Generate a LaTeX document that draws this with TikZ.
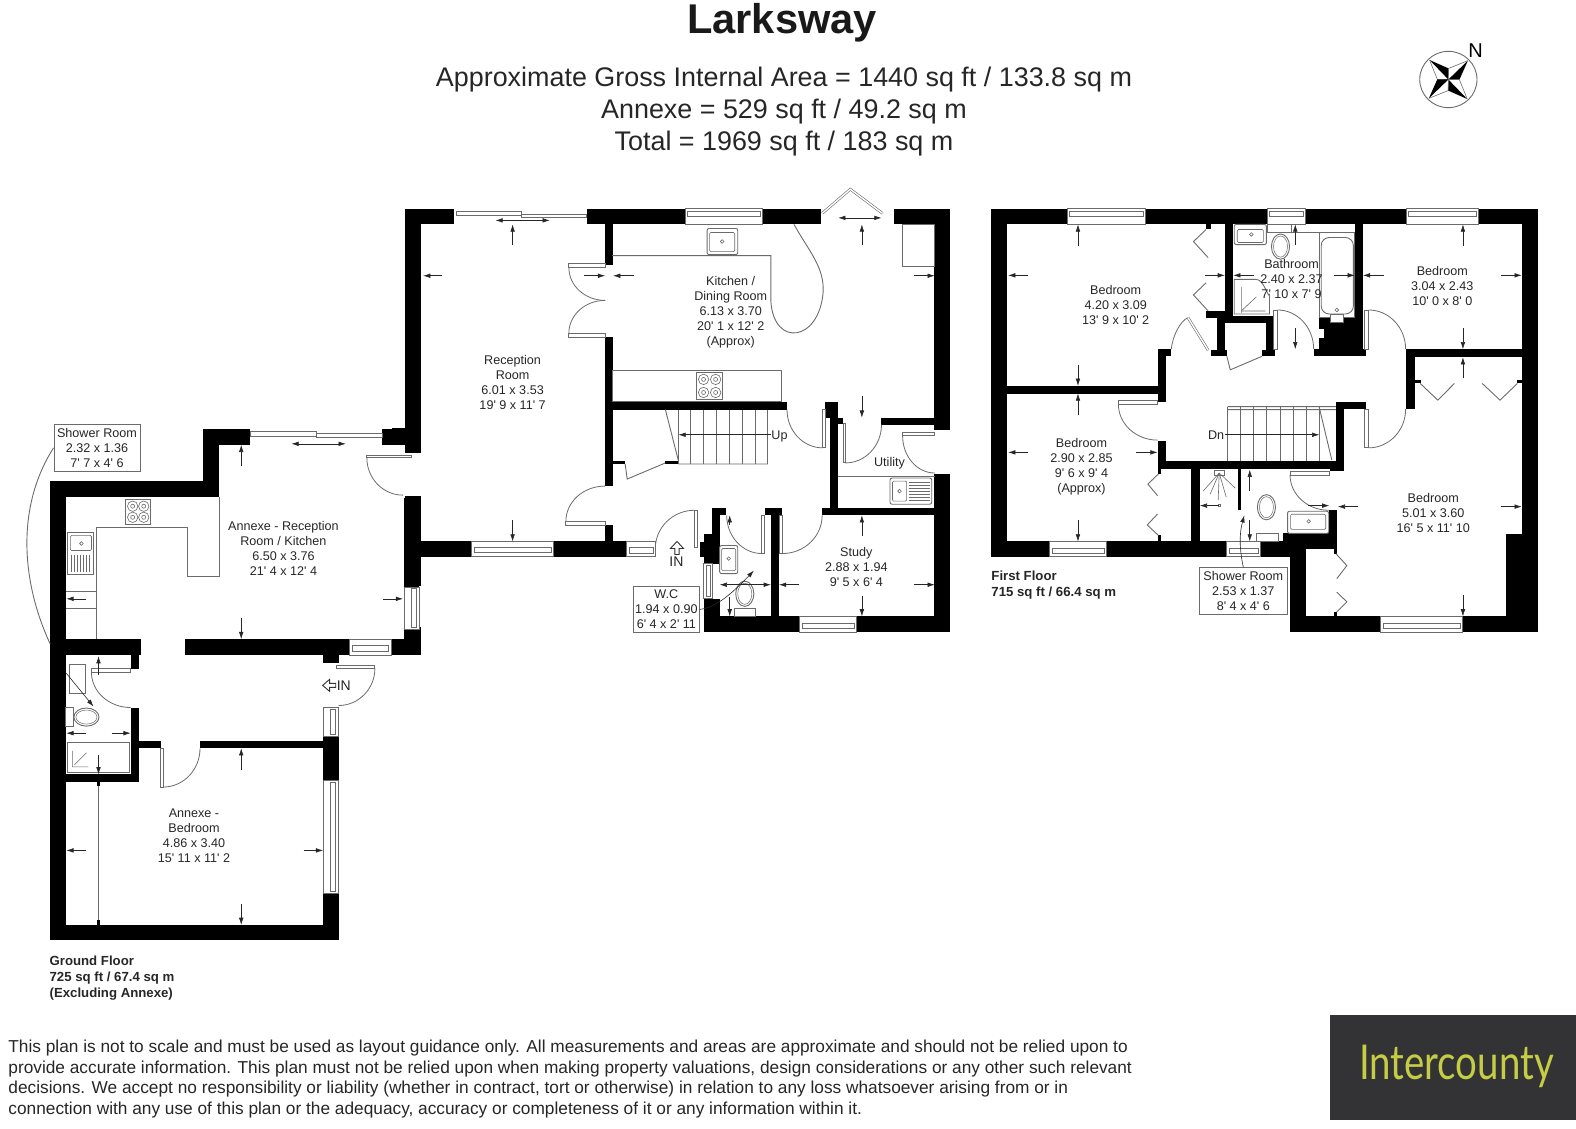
\documentclass[tikz,border=0pt]{standalone}
\usepackage{fontspec}
\setmainfont{Liberation Sans}[Ligatures=TeXOff]
\usetikzlibrary{arrows.meta,calc}
\definecolor{fixgray}{gray}{0.42}
\definecolor{logobg}{HTML}{333335}
\definecolor{logotext}{HTML}{C5CD45}
\tikzset{
  wall/.style={fill=black},
  fixture/.style={draw=fixgray,line width=0.45pt},
  dim/.style={draw=black!85,line width=0.3pt,-{Latex[length=3.6pt,width=2.3pt]}},
  dimboth/.style={draw=black!85,line width=0.3pt,{Latex[length=3.6pt,width=2.3pt]}-{Latex[length=3.6pt,width=2.3pt]}},
  room/.style={align=center,inner sep=0pt,text=black!85,font=\fontsize{6.3}{7.5}\selectfont},
  floorname/.style={align=left,anchor=north west,inner sep=0pt,text=black!85,font=\fontsize{6.6}{8}\selectfont\bfseries},
  roombox/.style={room,draw=fixgray,line width=0.45pt}
}
\begin{document}
\begin{tikzpicture}[x=0.50255pt,y=-0.5032pt]
\useasboundingbox (0,0) rectangle (1568,1120.9);

% heading
\node[inner sep=0pt,font=\fontsize{20.8}{24}\selectfont\bfseries,text=black!90] (title) at (778,23) {Larksway};
\node[inner sep=0pt,align=center,text=black!85,font=\fontsize{13.45}{16}\selectfont] (areas) at (780,111) {Approximate Gross Internal Area = 1440 sq ft / 133.8 sq m\\Annexe = 529 sq ft / 49.2 sq m\\Total = 1969 sq ft / 183 sq m};

% compass
\draw[fixture] (1441,79) ellipse (28.5 and 28);
\node[inner sep=0pt,font=\fontsize{10}{12}\selectfont] (north) at (1468,50) {N};
\foreach \t in {46,136,226,316}{
  \fill[black] (1441,79) -- ($(1441,79)+({\t}:-27)$) -- ($(1441,79)+({\t+45}:-11)$) -- cycle;
  \draw[fixture,line width=0.3pt] ($(1441,79)+({\t}:-27)$) -- ($(1441,79)+({\t-45}:-11)$) -- (1441,79);
}

% walls, ground floor
\foreach \a/\b/\c/\d in {403/207.5/452/223,403/207.5/419/450,390/425/403/441,403/493/419/582,403/623/419/651,
  419/538/469/553,551/538/623.5/553,584/207.5/682/223,759/207.5/817/223,889/207.5/945/223,929.5/207.5/945/427,
  929.5/471/945/628,602/223/610/263,602/335/610/483,602/522/610/538,609/399/783/407,609/458/622/461,662/458/675/461,
  821/399/834/415,826/415/834/505,834/415/839/421,877/415/930/422,818/505/930/512,708/505/722/512,708/512/716/531,
  700/530.5/716/560,696/539/700/553,700/595/716/628,700/612.5/795/628,852/612.5/945/628,767/512/775/613,761/505/778.5/512}
  \fill[wall] (\a,\b) rectangle (\c,\d);

% walls, annexe
\foreach \a/\b/\c/\d in {202/426/249/442,202/426/218/494,50/478/218/494,50/478/65.5/934,50/919/337/934,321.5/888/337/934,
  321.5/732/337/775,199/736/321.5/743.5,138/736/160/743.5,130/703/138/777,65.5/769.5/138/777,65.5/635/140/651,
  130/651/138/665,184/635/347.5/651,321.5/651/337/659,389/635/417/651,402/625/417/651,402/495/417/583,380.5/426/403/442}
  \fill[wall] (\a,\b) rectangle (\c,\d);

% walls, first floor
\foreach \a/\b/\c/\d in {986/207.5/1062/223,1140/207.5/1261/223,1299/207.5/1399/223,1471/207.5/1530/223,986/207.5/1001.5/553,
  986/538/1044.5/553,1101/538/1220.5/553,1253.7/538/1283/553,1276/530/1329/545.5,1283/545.5/1299/628,1283/612.5/1373.4/628,
  1455.5/612.5/1530/628,1514/207.5/1530/628,1498.6/530.5/1530/628,1218.7/223/1227/314,1201/309/1219/316,1200/223/1205/228,
  1200/309/1205/316,1210.6/316/1218.7/352,1204.7/348/1220.5/354,1218.7/314/1268/321,1260/321/1268.4/354,1255.6/348/1268.4/354,
  1348/223/1356/354,1312.6/315.6/1356/354,1307/347/1358.7/354,1399/347/1514/355,1399/347/1408/406.5,1151.7/347/1160/399,
  1151.7/347/1165.3/354,1001.5/383.4/1160/391,1151.7/438/1160/466,1151.7/458.5/1337.3/466,1329/399/1337.3/466,1329/399/1358.7/406.5,
  1323.7/466/1337/468,1185/466/1193.7/538,1231.6/466/1235/507,1322/507/1330/545.5,1151.7/466/1154.6/471,1151.7/532/1154.6/538,
  1408/378/1414/381,1509.7/378/1514/381,1327/545.5/1330/550,1327/608/1330/612.5}
  \fill[wall] (\a,\b) rectangle (\c,\d);
\fill[white] (1312.6,327) rectangle (1317,335.5);

% windows, door leaves, fittings
\foreach \a/\b/\c/\d in {
  469/538/551/553,472/544/549/549,623.5/538/652/553,626/544/650/550,682/207.5/759/223,684/210/757/215,
  795/612.5/852/628,798/619/850/624,700/560/709/595,703/562/707/593,402/583.5/417/625,409/585/414/623,
  347.5/635/389/651,351/641/386/647,321.5/703/337/732,329/705/334/730,321.5/775/337/888,329/777/334/886,
  1062/207.5/1140/223,1064/210/1138/215,1261/207.5/1299/223,1263/210/1297/215,1399/207.5/1471/223,1401/210/1469/215,
  1044.5/538/1101/553,1047/545/1099/550,1220.5/538/1253.7/553,1223/545/1252/550,1373.4/612.5/1455.5/628,1376/619/1453/624,
  454/210/519/214,519/213/583/216,249/429/315/434,315/431/380.5/435,
  566/262/602/266,566/331/602/335,563/518/602/522,691/507/694/544,818.5/406.5/821.5/445,839/421/841/460,898/430/930/433,
  758/512/761/550,775/512/778.5/550,365/453/409/455,335/661/373/664,91/664/130/668,160/743.5/162.5/782,
  1267/308/1271/347,1358/308/1361.6/347,1358/406.5/1361.6/445,1112.7/398/1151.7/401.6,1283.5/468.7/1322.6/472,
  898/223/930/265,609/368/777/399,693/370/719/397,67.5/529.5/93/570.5,69/660/85/689,65.5/703/73.5/722,67/738/129/767.5,
  730.5/605/751.5/612.5,1250/530.5/1272/538,1261/223/1285/231,1312.6/231/1348/315.6,1323.6/312/1336.6/320,125/496/150/521}
  \draw[fixture,fill=white] (\a,\b) rectangle (\c,\d);
\foreach \a/\b/\c/\d in {703.5/227/734/253,885.5/475/927/501,716/542/734/570,1228/223/1260/243,1281/508/1322/530}{
  \draw[fixture,rounded corners=1pt,fill=white] (\a,\b) rectangle (\c,\d);
}
\foreach \a/\b/\c/\d in {706/231/731/250,888/478/902/498,718/545/732/567,1231/228/1257/241,1284/511/1319/526,70/532/91/547}
  \draw[fixture,line width=0.3pt,rounded corners=0.6pt] (\a,\b) rectangle (\c,\d);
\foreach \x/\y in {718.5/240,895/488,725/555,1245/233,1302/518,81/540,1330/308}
  \draw[fixture,line width=0.3pt] (\x,\y) circle (0.9pt);
\draw[fixture,rounded corners=4pt] (1314.5,312) -- (1314.5,236) -- (1346.5,236) -- (1346.5,312) -- cycle;
\draw[fixture] (1228,312) -- (1228,277.6) -- (1250,277.6) to[out=0,in=-90] (1263,292) -- (1263,312) -- cycle;

% kitchen lines
\draw[fixture] (609,254) -- (767,254) -- (767,300) .. controls (770,345) and (815,340) .. (819,290) .. controls (820,265) and (805,250) .. (790,223);
\draw[fixture] (96,635) -- (96,524) -- (186,524) -- (186,573) -- (218,573) -- (218,494);
\draw[fixture] (65.5,588) -- (96,588) (65.5,605) -- (96,605);
\draw[fixture] (834,473.6) -- (930,473.6);
\draw[fixture] (1285,231) -- (1348,231);
\foreach \y in {479,482,485,488,491,494,497}{\draw[fixture,line width=0.25pt] (904,\y) -- (925,\y);}
\foreach \x in {71,74,77,80,83,86,89}{\draw[fixture,line width=0.25pt] (\x,551) -- (\x,568);}

% hobs
\foreach \x/\y in {700/377,712/377,700/390,712/390,132/503,143/503,132/514,143/514}{
  \draw[fixture,line width=0.3pt] (\x,\y) circle (2.6pt);
  \draw[fixture,line width=0.3pt] (\x,\y) circle (1pt);
}

% toilets and showers
\foreach \x/\y/\rx/\ry in {741/590/9/12.5,1274/245/9/12.5,1260/504/9/12.5,86/712.5/12.5/9}{
  \draw[fixture,fill=white] (\x,\y) ellipse ({\rx} and {\ry});
  \draw[fixture,line width=0.25pt] (\x,\y) ellipse ({\rx-2} and {\ry-2});
}
\draw[fixture,line width=0.3pt] (72,762) -- (72,746) (72,762) -- (88,762) (74,760) -- (86,748);
\draw[fixture,line width=0.3pt] (1235,311) -- (1235,285) (1235,309) -- (1259,309) (1236,308) -- (1250,295);
\foreach \u/\v in {1197/488,1204/491,1212/497,1220/494,1229/485}{\draw[fixture,line width=0.3pt] (1213,470) -- (\u,\v);}
\draw[fixture] (1208,467) rectangle (1218,472);
\draw[fixture,line width=0.3pt] (1212,501) rectangle (1214.5,503.5);

% stairs
\foreach \x in {675,687,700,713,726,738.5,751.5,764}{\draw[fixture] (\x,407) -- (\x,461);}
\draw[fixture] (675,461) -- (764,461) (662,407) -- (675,458);
\foreach \x in {1221.3,1234,1247.4,1260.3,1274,1287,1299.8,1312.6}{\draw[fixture] (\x,404) -- (\x,458.5);}
\draw[fixture] (1221.3,404) -- (1329,404) (1221.3,407) -- (1329,407) (1312.6,405) -- (1325,457);

% door swings
\foreach \ax/\ay/\kx/\ky/\bx/\by in {566/266/566/298.5/602/298.5,566/331/566/298.5/602/298.5,563/518/563/483/602/483,
  691/507/652/507/652/545,818.5/445/783/445/783/407,841/460/877/460/877/422,898/433/898/470/930/470,758/550/723/550/723/512,
  778.5/550/818/550/818/512,365/455/365/492/401/492,373/664/373/701/337/701,91/668/91/703/130/703,162.5/782/199/782/199/743.5,
  1181.9/315.6/1168/322/1165.3/347,1271/308/1307/308/1307/347,1361.6/308/1398.5/308/1398.5/347,1361.6/445/1398.5/445/1398.5/406.5,
  1112.7/401.6/1112.7/437.3/1151.7/437.3,1283.5/472/1283.5/507/1322/507}
  \draw[fixture,line width=0.4pt] (\ax,\ay) .. controls ($(\ax,\ay)!.552!(\kx,\ky)$) and ($(\bx,\by)!.552!(\kx,\ky)$) .. (\bx,\by);

% folding and slanted doors
\draw[fixture,double=white,double distance=0.7pt,line width=0.3pt] (818,212) -- (846,188) -- (878,212);
\draw[fixture,double=white,double distance=0.7pt,line width=0.3pt] (1181.9,315.6) -- (1202,348);
\foreach \p/\q/\r in {1200/228/1187.4,1200/281/1187.4}{\draw[fixture] (\p,\q) -- (\r,\q+12) -- (\p+2,\q+28);}
\draw[fixture] (1152.5,471) -- (1142,481) -- (1151.7,492.5) (1151.7,510.7) -- (1141.4,521.6) -- (1152.5,532);
\draw[fixture] (1413,381) -- (1430.5,397.6) -- (1447,381) (1474.7,381) -- (1492.4,397.6) -- (1509.7,381);
\draw[fixture] (1329,550) -- (1340,562) -- (1330,575) (1330,588.4) -- (1340,598) -- (1330,608);
\draw[fixture] (622,461) -- (624,476) -- (662,460);
\draw[fixture] (1220.6,354) -- (1224,367.5) -- (1255.6,354);

% annexe wardrobe line
\draw[fixture] (98,777) -- (98,919);
\fill[wall] (96.5,777) rectangle (99.5,781);
\fill[wall] (96.5,914) rectangle (99.5,919);

% dimension arrows
\foreach \a/\b/\c/\d in {510/243/510/223,440/274/421/274,581/274/602/274,631/274/610/274,510/517/510/538,857.5/243/857.5/223,
  909/274/930/274,857.5/393/857.5/415,857.5/533/857.5/512,857.5/592/857.5/612.5,795/581/775/581,909/581/930/581,726/522/726/512,
  726/593/726/612.5,240/463/240/442,240/614/240/635,381/595/401/595,240/765/240/743.5,240/898/240/919,86/845/66/845,302/845/321.5/845,
  86/595/66/595,98/671/98/652,98/750/98/769.5,66/669/93/702,86/728.5/66/728.5,111/728.5/130/728.5,
  1072.5/244.5/1072.5/223,1072.5/362.6/1072.5/383.4,1022.8/273.6/1003/273.6,1198.5/273.6/1218.7/273.6,1247.5/273.6/1227/273.6,
  1327.4/273.6/1348/273.6,1288.7/243.5/1288.7/223,1288.7/326/1288.7/347,1376.5/273.6/1356/273.6,1493/273.6/1514/273.6,
  1455.5/244.5/1455.5/223,1455.5/326/1455.5/347,1455.5/376/1455.5/355,1455.5/591.7/1455.5/612.5,1493/503.4/1514/503.4,1351.3/503.4/1331/503.4,
  1022.8/449.5/1003/449.5,1130.3/449.5/1151.7/449.5,1072.5/412/1072.5/391,1072.5/517/1072.5/538,1213/502.4/1193.7/502.4,
  1301.6/502.4/1322.6/502.4,1243.4/487.5/1243.4/466.7,1243.4/517/1243.4/538,767/432/675/432,1218.7/432/1312.6/432}
  \draw[dim] (\a,\b) -- (\c,\d);
\foreach \a/\b/\c/\d in {493/219/547/219,834/216.5/877/216.5,290/441/344/441,716/581/767/581}
  \draw[dimboth] (\a,\b) -- (\c,\d);

% way in arrows
\draw[fixture,draw=black!80] (673.6,538) -- (667,545) -- (671.5,545) -- (671.5,551) -- (675.7,551) -- (675.7,545) -- (680,545) -- cycle;
\draw[fixture,draw=black!80] (321,681) -- (328,675) -- (328,679) -- (334,679) -- (334,683) -- (328,683) -- (328,687) -- cycle;
\node[room,font=\fontsize{7}{8}\selectfont] (inmain) at (673,558) {IN};
\node[room,font=\fontsize{7}{8}\selectfont] (inannexe) at (342,681) {IN};

% room labels
\node[room] (kitchen) at (727,310.5) {Kitchen /\\Dining Room\\6.13 x 3.70\\20' 1 x 12' 2\\(Approx)};
\node[room] (reception) at (510,380.5) {Reception\\Room\\6.01 x 3.53\\19' 9 x 11' 7};
\node[room] (study) at (852,563) {Study\\2.88 x 1.94\\9' 5 x 6' 4};
\node[room] (utility) at (885,460) {Utility};
\node[room] (stairsup) at (775.5,434) {Up};
\node[room] (annexerec) at (282,544.5) {Annexe - Reception\\Room / Kitchen\\6.50 x 3.76\\21' 4 x 12' 4};
\node[room] (annexebed) at (193,830.5) {Annexe -\\Bedroom\\4.86 x 3.40\\15' 11 x 11' 2};
\node[room] (bedone) at (1110,303) {Bedroom\\4.20 x 3.09\\13' 9 x 10' 2};
\node[room] (bath) at (1285,277) {Bathroom\\2.40 x 2.37\\7' 10 x 7' 9};
\node[room] (bedtwo) at (1435,284) {Bedroom\\3.04 x 2.43\\10' 0 x 8' 0};
\node[room] (bedthree) at (1076,463.5) {Bedroom\\2.90 x 2.85\\9' 6 x 9' 4\\(Approx)};
\node[room] (bedfour) at (1426,510) {Bedroom\\5.01 x 3.60\\16' 5 x 11' 10};
\node[room] (stairsdn) at (1210,432) {Dn};

% boxed labels and their leaders
\node[roombox,fill=white,minimum width=32.8pt,minimum height=22.8pt] (wcbox) at (663,605.5) {W.C\\1.94 x 0.90\\6' 4 x 2' 11};
\node[roombox,fill=white,minimum width=43pt,minimum height=23.2pt] (annexeshower) at (96.5,445) {Shower Room\\2.32 x 1.36\\7' 7 x 4' 6};
\node[roombox,fill=white,minimum width=44pt,minimum height=23.5pt] (upshower) at (1237,587.5) {Shower Room\\2.53 x 1.37\\8' 4 x 4' 6};
\draw[dim] (wcbox.east) .. controls (712,604) and (728,590) .. (750,567);
\draw[fixture] (annexeshower.west) .. controls (15,505) and (22,580) .. (50,640);
\draw[dim] (upshower.north) .. controls (1233,545) and (1233,530) .. (1238,512);

% floor names
\node[floorname] (groundname) at (49,949) {Ground Floor\\725 sq ft / 67.4 sq m\\(Excluding Annexe)};
\node[floorname] (firstname) at (986,567) {First Floor\\715 sq ft / 66.4 sq m};

% disclaimer
\node[anchor=north west,inner sep=0pt,align=left,text=black!85,font=\fontsize{8.64}{10.35}\selectfont] (notice) at (8,1033) {This plan is not to scale and must be used as layout guidance only. All measurements and areas are approximate and should not be relied upon to\\provide accurate information. This plan must not be relied upon when making property valuations, design considerations or any other such relevant\\decisions. We accept no responsibility or liability (whether in contract, tort or otherwise) in relation to any loss whatsoever arising from or in\\connection with any use of this plan or the adequacy, accuracy or completeness of it or any information within it.};

% logo
\fill[logobg] (1323,1009) rectangle (1568,1113);
\node[inner sep=0pt,text=logotext,font=\fontsize{24}{26}\selectfont] (logo) at (1449,1060) {\fontspec{Lato}[FakeStretch=0.8]Intercounty};
\end{tikzpicture}
\end{document}
